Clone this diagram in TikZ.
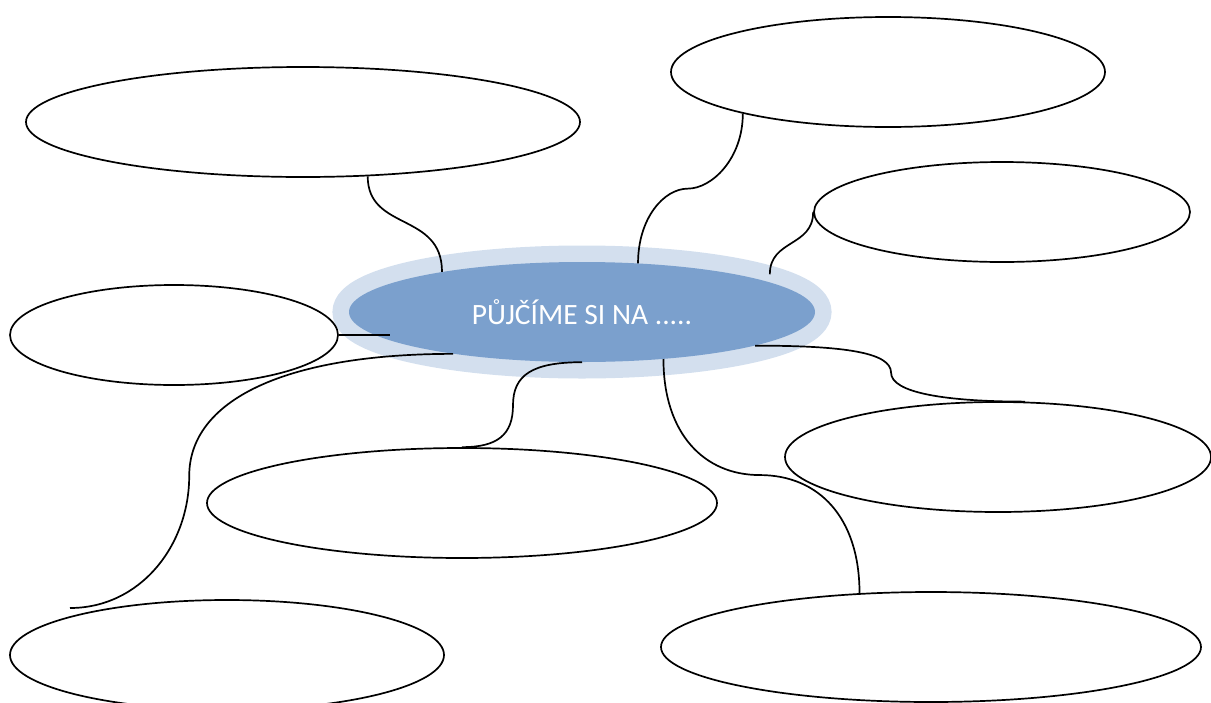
\documentclass[tikz,border=0pt]{standalone}
\usepackage{fontspec}
\setmainfont{Carlito}
\definecolor{HubBlue}{RGB}{123,160,205}
\definecolor{RingBlue}{RGB}{211,223,238}
\usetikzlibrary{shapes.geometric,calc}
\tikzset{bubble/.style={draw,ellipse,line width=1.7pt,inner sep=0pt},
  link/.style={line width=1.7pt}}

\begin{document}
\begin{tikzpicture}[x=1pt,y=-1pt]
\useasboundingbox (0,0) rectangle (1211,702);
% central topic
\node[ellipse,fill=HubBlue,preaction={draw=RingBlue,line width=33pt},
  minimum width=466pt,minimum height=100pt,inner sep=0pt,text=white,
  font=\fontsize{29.5}{35}\selectfont] (hub) at (582,312) {PŮJČÍME SI NA .....};
% empty bubbles
\node[bubble,minimum width=554pt,minimum height=110pt] (tl) at (303,122) {};
\node[bubble,minimum width=434pt,minimum height=110pt] (tr) at (888,72) {};
\node[bubble,minimum width=376pt,minimum height=100pt] (ru) at (1002,212) {};
\node[bubble,minimum width=328pt,minimum height=100pt] (lm) at (174,335) {};
\node[bubble,minimum width=426pt,minimum height=110pt] (rl) at (998,457) {};
\node[bubble,minimum width=510pt,minimum height=110pt] (ml) at (462,503) {};
\node[bubble,minimum width=434pt,minimum height=110pt] (bl) at (227,655) {};
\node[bubble,minimum width=540pt,minimum height=110pt] (br) at (931,647) {};
\coordinate (blin) at (70,608);
% connectors
\draw[link] (tl.-40) .. controls +(0,55) and +(0,-60) .. (hub.164);
\draw[link] (tr.-164) .. controls +(0,45) and +(24,0) .. ++(-55,75)
  .. controls +(-24,0) and +(0,-45) .. (hub.41);
\draw[link] (ru.west) .. controls +(0,35) and +(0,-35) .. ($(hub.9)+(0,-8)$);
\draw[link] (lm.east) -- ($(hub.west)+(41,23)$);
\draw[link] (hub.-162) .. controls +(-170,0) and +(0,-75) .. ++(-264,122)
  .. controls +(0,70) and +(70,0) .. (blin);
\draw[link] (hub.south) .. controls +(-50,0) and +(0,-30) .. ++(-69,43)
  .. controls +(0,30) and +(35,0) .. (ml.north);
\draw[link] (hub.-30) .. controls +(0,75) and +(-55,0) .. ++(96,116)
  .. controls +(60,0) and +(0,-75) .. (br.143);
\draw[link] (hub.-11) .. controls +(90,0) and +(0,-20) .. ++(136,27)
  .. controls +(0,20) and +(-80,0) .. (rl.64);
\end{tikzpicture}
\end{document}
